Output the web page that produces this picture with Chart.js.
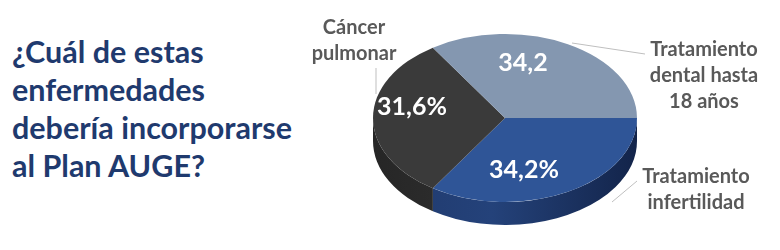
<!DOCTYPE html>
<html><head><meta charset="utf-8">
<script src="https://cdn.jsdelivr.net/npm/chart.js@4"></script>
<style>
html,body{margin:0;padding:0;background:#fff;}
#wrap{position:relative;width:780px;height:250px;overflow:hidden;}
#title{position:absolute;left:12px;top:32px;font-family:Lato,"Open Sans",sans-serif;font-weight:bold;font-size:30.5px;color:#1f3a6e;line-height:38px;white-space:nowrap;}
#c{position:absolute;left:0;top:0;}
</style></head><body>
<div id="wrap">
<div id="title">¿Cuál de estas<br>enfermedades<br>debería incorporarse<br>al Plan AUGE?</div>
<canvas id="c" width="780" height="250"></canvas>
</div>
<script>
// ---- data ----
const categories = ["Tratamiento infertilidad", "Cáncer pulmonar", "Tratamiento dental hasta 18 años"];
const categoryLines = [["Tratamiento","infertilidad"],["Cáncer","pulmonar"],["Tratamiento","dental hasta","18 años"]];
const values = [34.2, 31.6, 34.2];
const valueLabels = ["34,2%", "31,6%", "34,2"];

// ---- style ----
const topColors = ["#2F5597", "#3A3A3A", "#8497B0"];
const sideColors = [["#20396c","#24427a","#13244a"],["#262626","#303030","#1e1e1e"],["#5f7089","#6e82a0","#56657c"]];
const G = {cx:505, cy:118, rx:132, ry:84, depth:23};
const valueLabelPos = [[524,170],[412,107],[523,63]];
const catLabelPos = [[696,177],[354,28],[704,50]];
const leaders = [[[612,202],[637,181]],[[376,68],[376,94]],[[572,43],[645,54]]];

function arcSide(ctx, s, e, grad){
  ctx.beginPath();
  ctx.ellipse(G.cx, G.cy, G.rx, G.ry, 0, s, e, false);
  ctx.ellipse(G.cx, G.cy + G.depth, G.rx, G.ry, 0, e, s, true);
  ctx.closePath();
  ctx.fillStyle = grad;
  ctx.fill();
}

const pie3d = {
  id: 'pie3d',
  beforeDatasetsDraw(chart){
    const ctx = chart.ctx;
    const meta = chart.getDatasetMeta(0);
    meta.data.forEach((arc, i) => {
      const st = arc.startAngle, en = arc.endAngle;
      [[0, Math.PI], [2*Math.PI, 3*Math.PI]].forEach(([a, b]) => {
        const s = Math.max(st, a), e = Math.min(en, b);
        if (e > s) {
          const g = ctx.createLinearGradient(G.cx - G.rx, 0, G.cx + G.rx, 0);
          g.addColorStop(0, sideColors[i][0]);
          g.addColorStop(0.45, sideColors[i][1]);
          g.addColorStop(1, sideColors[i][2]);
          arcSide(ctx, s, e, g);
        }
      });
    });
    const a0 = meta.data[0];
    const r = a0.outerRadius;
    ctx.save();
    ctx.translate(G.cx, G.cy);
    ctx.scale(G.rx / r, G.ry / r);
    ctx.translate(-a0.x, -a0.y);
  },
  afterDatasetsDraw(chart){
    const ctx = chart.ctx;
    ctx.restore();
    ctx.save();
    ctx.textAlign = 'center';
    ctx.textBaseline = 'middle';
    ctx.fillStyle = '#ffffff';
    ctx.font = 'bold 25px Lato, "Open Sans", sans-serif';
    chart.data.datasets[0].data.forEach((v, i) => {
      const p = valueLabelPos[i];
      ctx.fillText(valueLabels[i], p[0], p[1]);
    });
    ctx.strokeStyle = '#bfbfbf';
    ctx.lineWidth = 1;
    leaders.forEach(l => {
      ctx.beginPath(); ctx.moveTo(l[0][0], l[0][1]); ctx.lineTo(l[1][0], l[1][1]); ctx.stroke();
    });
    ctx.fillStyle = '#595959';
    ctx.font = 'bold 20px Lato, "Open Sans", sans-serif';
    categoryLines.forEach((lines, i) => {
      const p = catLabelPos[i];
      lines.forEach((t, k) => ctx.fillText(t, p[0], p[1] + k * 26));
    });
    ctx.restore();
  }
};

new Chart(document.getElementById('c'), {
  type: 'pie',
  data: {
    labels: categories,
    datasets: [{ data: values, backgroundColor: topColors, borderWidth: 0, clip: false }]
  },
  options: {
    responsive: false,
    animation: false,
    rotation: 90,
    plugins: { legend: { display: false }, tooltip: { enabled: false } },
    events: []
  },
  plugins: [pie3d]
});
</script>
</body></html>
